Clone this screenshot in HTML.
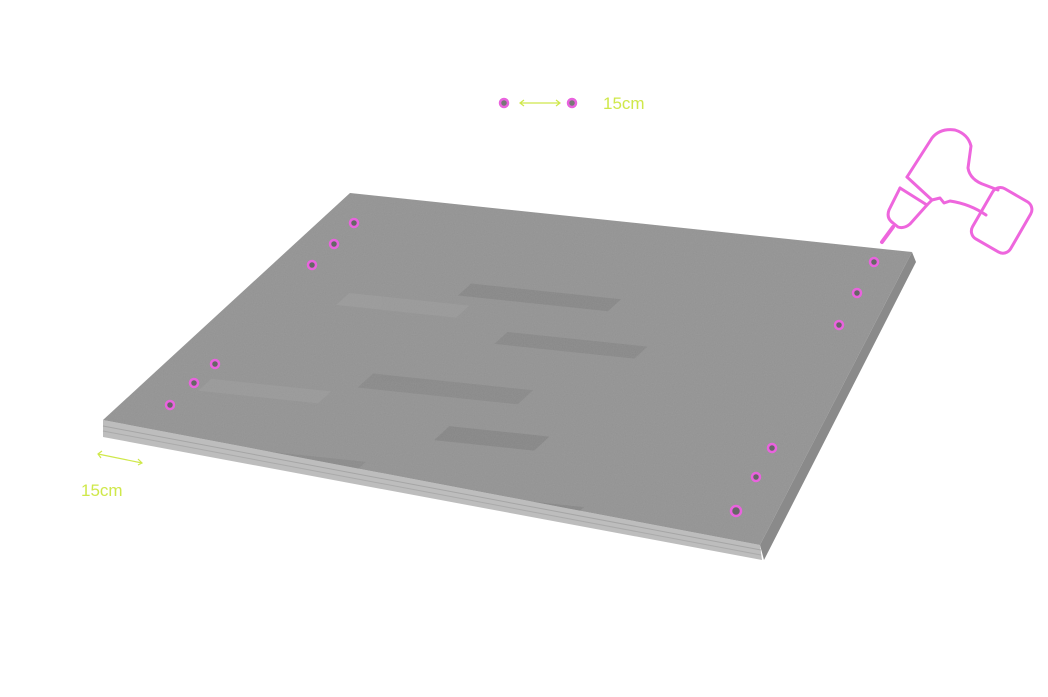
<!DOCTYPE html>
<html><head><meta charset="utf-8"><style>
html,body{margin:0;padding:0;background:#fff;width:1048px;height:697px;overflow:hidden}
svg{display:block}
text{font-family:"Liberation Sans",sans-serif}
</style></head><body>
<svg width="1048" height="697" viewBox="0 0 1048 697">
<defs>
<clipPath id="top"><polygon points="350,193 912,252 760,545 103,420"/></clipPath>
<filter id="noise"><feTurbulence type="fractalNoise" baseFrequency="0.9" numOctaves="2" result="n"/><feColorMatrix type="matrix" values="0 0 0 0 0.5  0 0 0 0 0.5  0 0 0 0 0.5  0 0 0 0.35 0"/><feComposite in2="SourceGraphic" operator="in"/></filter>
</defs>
<g>
<polygon points="103,420 760,545 762,560 103,437" fill="#bdbdbd"/>
<line x1="103" y1="426" x2="761" y2="550" stroke="#a5a5a5" stroke-width="1"/>
<line x1="103" y1="431" x2="761" y2="555" stroke="#aaa" stroke-width="1"/>
<polygon points="912,252 916,262 764,560 760,545" fill="#8a8a8a"/>
<polygon points="350,193 912,252 760,545 103,420" fill="#929292"/>
<g clip-path="url(#top)" opacity="0.3">
<g transform="matrix(1,0.105,-1.09,1,0,0)">
<rect x="700" y="210" width="150" height="12" fill="#6d6d6d"/>
<rect x="600" y="230" width="120" height="12" fill="#a8a8a8"/>
<rect x="780" y="250" width="140" height="12" fill="#6f6f6f"/>
<rect x="700" y="300" width="160" height="14" fill="#707070"/>
<rect x="560" y="320" width="120" height="12" fill="#a5a5a5"/>
<rect x="820" y="340" width="100" height="14" fill="#666"/>
<rect x="640" y="380" width="140" height="14" fill="#737373"/>
<rect x="900" y="400" width="120" height="12" fill="#6a6a6a"/>
<rect x="760" y="450" width="160" height="16" fill="#6b6b6b"/>
<rect x="600" y="470" width="120" height="14" fill="#a6a6a6"/>
<rect x="1000" y="490" width="130" height="14" fill="#707070"/>
<rect x="880" y="530" width="140" height="14" fill="#666"/>
</g>
</g>
<polygon points="350,193 912,252 760,545 103,420" fill="#fff" filter="url(#noise)" opacity="0.6"/>
</g>
<g fill="#666" stroke="#e963de" stroke-width="2.5">
<circle cx="354" cy="223" r="4"/><circle cx="334" cy="244" r="4"/><circle cx="312" cy="265" r="4"/>
<circle cx="215" cy="364" r="4"/><circle cx="194" cy="383" r="4"/><circle cx="170" cy="405" r="4"/>
<circle cx="874" cy="262" r="4"/><circle cx="857" cy="293" r="4"/><circle cx="839" cy="325" r="4"/>
<circle cx="772" cy="448" r="4"/><circle cx="756" cy="477" r="4"/><circle cx="736" cy="511" r="5"/>
</g>
<g>
<circle cx="504" cy="103" r="4" fill="#777" stroke="#e963de" stroke-width="2.5"/>
<circle cx="572" cy="103" r="4" fill="#777" stroke="#e963de" stroke-width="2.5"/>
<path d="M520 103 H560 M524 100 L520 103 L524 106 M556 100 L560 103 L556 106" stroke="#cfe84a" stroke-width="1.2" fill="none"/>
<text x="603" y="109" font-size="17" fill="#cfe84a">15cm</text>
</g>
<g>
<path d="M98 454 L142 463 M102 451 L98 454 L101 458 M138 459 L142 463 L138 465" stroke="#cfe84a" stroke-width="1.2" fill="none"/>
<text x="81" y="496" font-size="17" fill="#cfe84a">15cm</text>
</g>
<g fill="none" stroke="#ee66dd" stroke-width="3" stroke-linejoin="round" stroke-linecap="round">
<path d="M907 177 L932 138 Q940 128 955 130 Q968 134 971 146 L968 168 Q970 180 985 185 L998 190"/>
<path d="M907 177 L932 200 L940 198 L944 203 L950 201 Q970 204 986 215"/>
<path d="M900 188 L927 205 L932 200"/>
<path d="M900 188 L889 210 Q886 218 893 223 L898 227 Q904 229 910 224 L927 205"/>
<line x1="893" y1="227" x2="882" y2="242" stroke-width="4"/>
<rect x="980" y="192" width="44" height="58" rx="9" transform="rotate(30 1003 220)"/>
</g>
</svg>
</body></html>
